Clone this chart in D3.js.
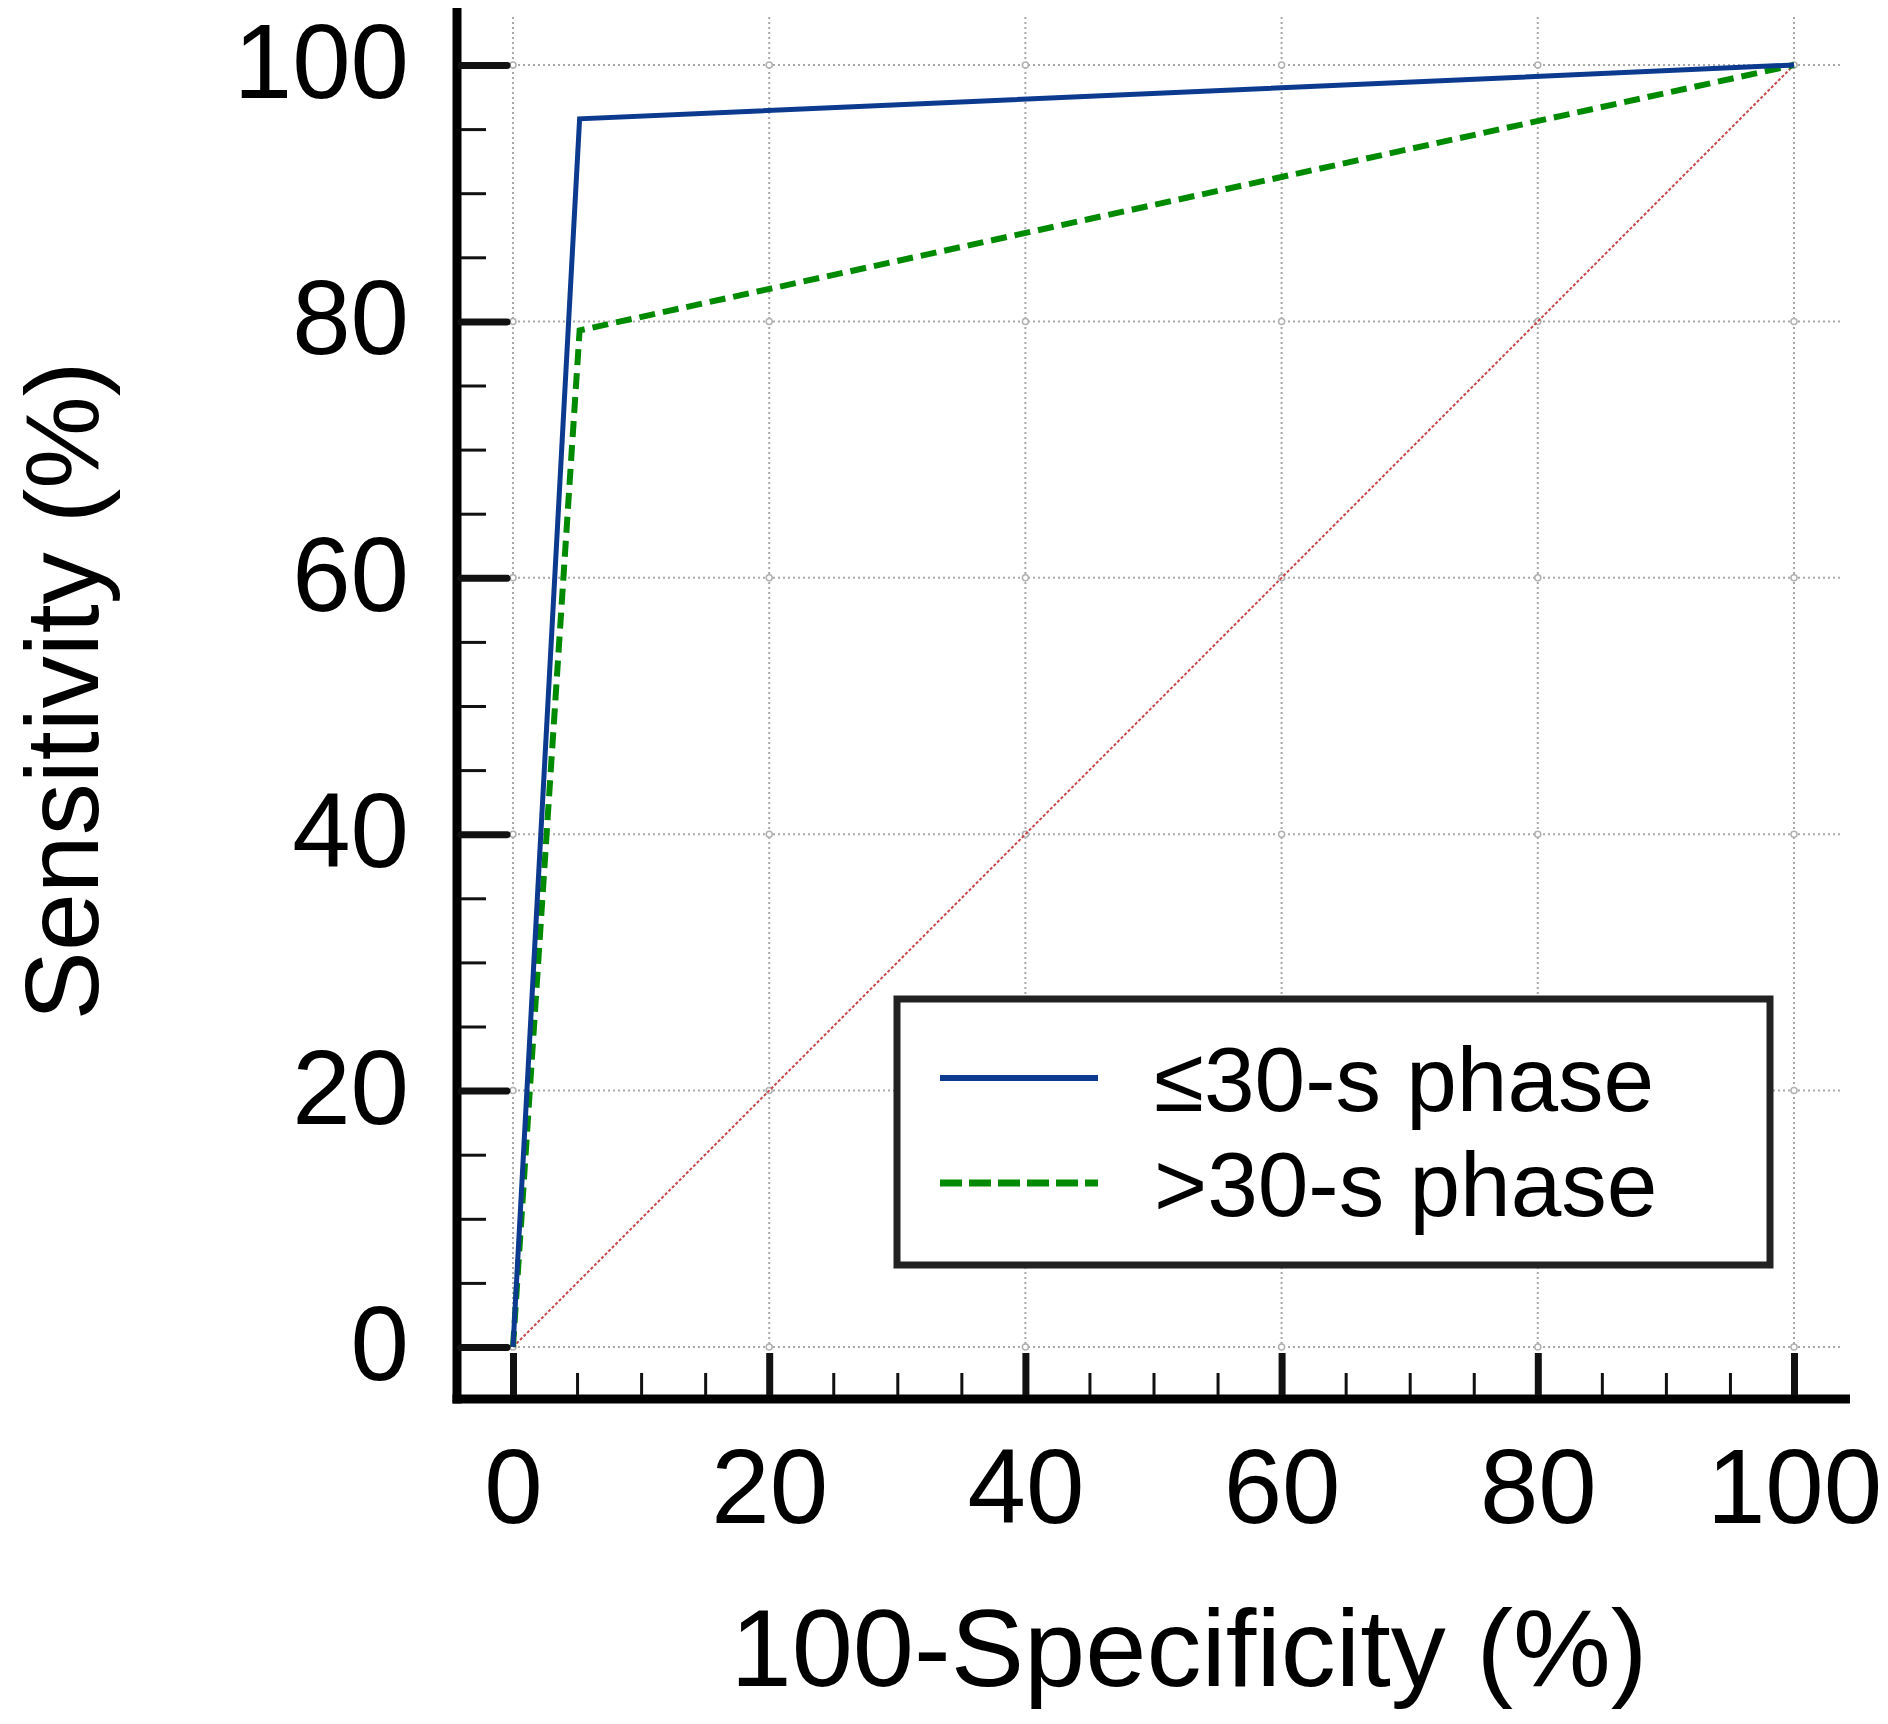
<!DOCTYPE html>
<html>
<head>
<meta charset="utf-8">
<script src="https://cdn.jsdelivr.net/npm/d3@7"></script>
<style>
  html, body { margin: 0; padding: 0; background: #fff; }
  svg { display: block; font-family: "Liberation Sans", Arial, sans-serif; }
</style>
</head>
<body>
<div class="chart"></div>
<script>
// ROC points (100-specificity, sensitivity)
const fpr = [0, 5.2, 100];
const sensShort = [0, 95.8, 100];   // <=30-s phase
const sensLong = [0, 79.3, 100];    // >30-s phase
const diagonal = [0, 100];

const majorTicks = [0, 20, 40, 60, 80, 100];
const minorTicks = [5, 10, 15, 25, 30, 35, 45, 50, 55, 65, 70, 75, 85, 90, 95];
const seriesNames = ["\u226430-s phase", ">30-s phase"];

const W = 1888, H = 1724;

const svg = d3.select(".chart")
  .append("svg")
  .attr("width", W)
  .attr("height", H);

// scales
const x = d3.scaleLinear().domain([0, 100]).range([513, 1794]);
const y = d3.scaleLinear().domain([0, 100]).range([1347, 65]);

// grid (dotted)
const grid = svg.append("g")
  .attr("stroke", "#a8a8a8")
  .attr("stroke-width", 2)
  .attr("stroke-dasharray", "2,3");

grid.selectAll(".vgrid")
  .data(majorTicks)
  .enter().append("line")
  .attr("x1", d => x(d)).attr("x2", d => x(d))
  .attr("y1", y(100) - 48).attr("y2", y(0));

grid.selectAll(".hgrid")
  .data(majorTicks)
  .enter().append("line")
  .attr("x1", x(0)).attr("x2", x(100) + 48)
  .attr("y1", d => y(d)).attr("y2", d => y(d));

// little rings at grid crossings
const crossings = [];
majorTicks.forEach(a => majorTicks.forEach(b => crossings.push([a, b])));
svg.append("g").selectAll("circle")
  .data(crossings)
  .enter().append("circle")
  .attr("cx", d => x(d[0]))
  .attr("cy", d => y(d[1]))
  .attr("r", 3)
  .attr("fill", "#fff")
  .attr("stroke", "#b0b0b0")
  .attr("stroke-width", 1.5);

// reference diagonal
const line = d3.line().x(d => x(d[0])).y(d => y(d[1]));

svg.append("path")
  .datum(diagonal.map(v => [v, v]))
  .attr("d", line)
  .attr("fill", "none")
  .attr("stroke", "#c8474a")
  .attr("stroke-width", 2)
  .attr("stroke-dasharray", "3,2");

// ROC curves
svg.append("path")
  .datum(fpr.map((f, i) => [f, sensLong[i]]))
  .attr("d", line)
  .attr("fill", "none")
  .attr("stroke", "#008a00")
  .attr("stroke-width", 6)
  .attr("stroke-dasharray", "16,8");

svg.append("path")
  .datum(fpr.map((f, i) => [f, sensShort[i]]))
  .attr("d", line)
  .attr("fill", "none")
  .attr("stroke", "#0b3a8e")
  .attr("stroke-width", 5);

// axes lines
const axisX0 = 457, axisY0 = 1399;

svg.append("line")
  .attr("x1", axisX0).attr("x2", axisX0)
  .attr("y1", 8).attr("y2", axisY0 + 4.5)
  .attr("stroke", "#000").attr("stroke-width", 9);

svg.append("line")
  .attr("x1", axisX0 - 4.5).attr("x2", 1850)
  .attr("y1", axisY0).attr("y2", axisY0)
  .attr("stroke", "#000").attr("stroke-width", 9);

// y axis ticks (pointing inward)
const yMajor = svg.append("g")
  .attr("transform", "translate(" + (axisX0 + 4) + ",0)")
  .call(d3.axisLeft(y).tickValues(majorTicks).tickSize(-46).tickPadding(52).tickFormat(d3.format("d")));
yMajor.select(".domain").remove();
yMajor.selectAll(".tick line").attr("stroke", "#111").attr("stroke-width", 7).attr("stroke-linecap", "round");
yMajor.selectAll(".tick text")
  .attr("font-size", 105).attr("fill", "#000")
  .attr("font-family", "Liberation Sans, Arial, sans-serif")
  .attr("dy", "0.31em");

const yMinor = svg.append("g")
  .attr("transform", "translate(" + (axisX0 + 4) + ",0)")
  .call(d3.axisLeft(y).tickValues(minorTicks).tickSize(-25).tickFormat(""));
yMinor.select(".domain").remove();
yMinor.selectAll(".tick line").attr("stroke", "#111").attr("stroke-width", 3);

// x axis ticks (pointing inward)
const xMajor = svg.append("g")
  .attr("transform", "translate(0," + (axisY0 - 4) + ")")
  .call(d3.axisBottom(x).tickValues(majorTicks).tickSize(-42).tickPadding(128).tickFormat(d3.format("d")));
xMajor.select(".domain").remove();
xMajor.selectAll(".tick line").attr("stroke", "#111").attr("stroke-width", 7);
xMajor.selectAll(".tick text")
  .attr("font-size", 105).attr("fill", "#000")
  .attr("font-family", "Liberation Sans, Arial, sans-serif")
  .attr("dy", 0);

const xMinor = svg.append("g")
  .attr("transform", "translate(0," + (axisY0 - 4) + ")")
  .call(d3.axisBottom(x).tickValues(minorTicks).tickSize(-22).tickFormat(""));
xMinor.select(".domain").remove();
xMinor.selectAll(".tick line").attr("stroke", "#111").attr("stroke-width", 3);

// axis titles
svg.append("text")
  .attr("x", 1189).attr("y", 1686)
  .attr("text-anchor", "middle")
  .attr("font-size", 110)
  .text("100-Specificity (%)");

svg.append("text")
  .attr("transform", "translate(98,691) rotate(-90)")
  .attr("text-anchor", "middle")
  .attr("font-size", 104)
  .text("Sensitivity (%)");

// legend
const legend = svg.append("g");
legend.append("rect")
  .attr("x", 897).attr("y", 999)
  .attr("width", 873).attr("height", 266)
  .attr("fill", "#fff")
  .attr("stroke", "#222")
  .attr("stroke-width", 7);

const legendStyles = [
  {stroke: "#0b3a8e", dash: null, width: 6},
  {stroke: "#008a00", dash: "22,7", width: 7}
];
const legendY = [1078, 1183];

legend.selectAll(".lg-line")
  .data(seriesNames)
  .enter().append("line")
  .attr("x1", 940).attr("x2", 1098)
  .attr("y1", (d, i) => legendY[i]).attr("y2", (d, i) => legendY[i])
  .attr("stroke", (d, i) => legendStyles[i].stroke)
  .attr("stroke-width", (d, i) => legendStyles[i].width)
  .attr("stroke-dasharray", (d, i) => legendStyles[i].dash);

legend.selectAll(".lg-text")
  .data(seriesNames)
  .enter().append("text")
  .attr("x", 1154)
  .attr("y", (d, i) => legendY[i] + 33)
  .attr("font-size", 91)
  .text(d => d);
</script>
</body>
</html>
